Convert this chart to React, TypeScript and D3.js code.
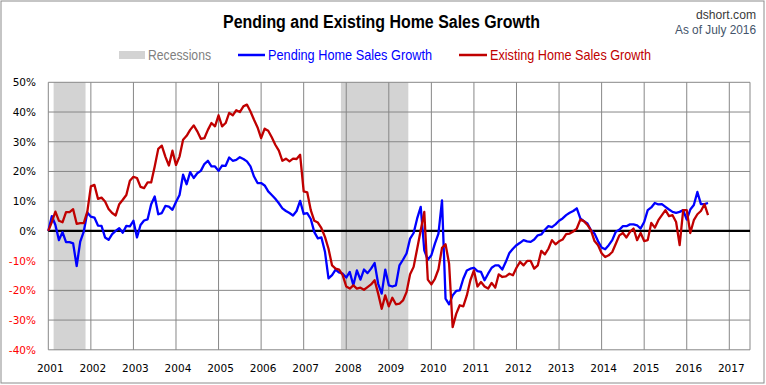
import React, { useEffect } from "react";
import * as d3 from "d3";

// monthly YoY growth, Jan 2001 .. Jul 2016 (percent)
const pending = [
  // 2001
  0, 5, 2, -3.1, -0.4, -3.8, -3.8, -4.2, -11.8, -3.6, -0.2, 6.2,
  // 2002
  4.8, 4.5, 1.8, 1.7, -2.2, -3, -1.1, 0, 0.9, -0.6, 1.7, 1.5,
  // 2003
  3.4, -2.2, 2, 3.5, 3.9, 9, 11.6, 5.6, 6, 8.4, 8.2, 7.1,
  // 2004
  9.7, 12.1, 18.9, 15.7, 19.8, 17.8, 19.4, 20.2, 22.5, 23.6, 21.7, 21.7,
  // 2005
  20.2, 22, 21.9, 24.7, 23.6, 23.9, 24.8, 24.2, 23.4, 21.7, 18.3, 16.1,
  // 2006
  16.1, 15.3, 13.3, 12.1, 10.8, 9.3, 7.6, 6.7, 6, 5.2, 6.7, 10.1,
  // 2007
  5.7, 6, 4, -0.4, -2.5, -2.2, -7, -16, -14.9, -13, -14, -14.4,
  // 2008
  -15.7, -13.8, -18.3, -13.3, -16.4, -13, -14.2, -12.7, -10.8, -17.8, -21.1, -13,
  // 2009
  -18.3, -18.7, -18.3, -11.6, -9.7, -7.6, -2.6, -0.7, 4.2, 8.1, -6.5, -9.7,
  // 2010
  -8.2, -4.3, -0.9, 10.3, -22.8, -24.7, -21.7, -20.2, -20, -16.1, -13.3, -12.7,
  // 2011
  -12.4, -13.5, -13.8, -16.6, -14.4, -12.4, -11.6, -11.6, -13, -10.4, -7.4, -6,
  // 2012
  -4.8, -4, -3.1, -3.5, -3.7, -2.9, -1.5, -1.2, 0.4, 1.6, 1.3, 2.2,
  // 2013
  3.4, 4.2, 5.3, 6.1, 6.7, 7.6, 4.2, 3.3, 2.5, 0.2, -0.9, -3.5,
  // 2014
  -5.6, -6.2, -4.8, -3.1, -0.3, 0.4, 1.6, 1.6, 2.2, 2.2, 1.9, 0.8,
  // 2015
  3, 7, 7.9, 9.4, 8.9, 9, 8.1, 7.2, 6.4, 6.1, 6.4, 7,
  // 2016
  3.8, 7.2, 8.7, 13.1, 9, 9, 9.4,
];

const existing = [
  // 2001
  0, 3, 6.5, 3.4, 2.9, 6.3, 6.3, 7.3, 2.4, 2.6, 2.6, 6.5,
  // 2002
  15, 15.5, 10.8, 11.2, 9.9, 7.4, 6, 5.2, 9, 10.5, 12.1, 16.9,
  // 2003
  18.2, 17.8, 14.8, 14.4, 16.3, 16.3, 21.7, 27.6, 28.7, 25, 22, 27,
  // 2004
  22.2, 25, 30.7, 32, 34, 35.5, 33.5, 31, 31.2, 34, 36.3, 35.2,
  // 2005
  38.9, 35.2, 36.3, 39.7, 38.9, 40.6, 40, 41.9, 42.5, 40.2, 37.4, 34.8,
  // 2006
  31.2, 34.4, 33.7, 31.5, 29, 27, 23.6, 24.3, 23.4, 24.3, 24.2, 25.6,
  // 2007
  13.3, 13, 7, 3.4, 2.8, 0.9, -2, -6, -11.6, -12.7, -13, -14.9,
  // 2008
  -18.7, -19.4, -18.3, -19.4, -19.1, -19.8, -18.9, -18, -16.6, -21.1, -26.2, -21.7,
  // 2009
  -25.4, -22.5, -24.7, -24.5, -23.4, -20.6, -14.6, -12.1, -6, 0.2, 6.4, -16.4,
  // 2010
  -18, -16.1, -12.9, -5.7, -4.5, -11, -32.4, -27.9, -25, -25.4, -21.7, -16.6,
  // 2011
  -13.3, -18.7, -17.2, -18.7, -19.4, -17.5, -19.1, -14.6, -15.5, -15.3, -14.4, -14.9,
  // 2012
  -12.4, -10.4, -11.6, -10.1, -10.1, -12.7, -11.6, -6.7, -7.9, -6, -3.1, -4.5,
  // 2013
  -3.5, -2.9, -1.1, -0.9, -0.2, 0.8, 3.8, 3.3, 2, 0.2, -3.4, -4.8,
  // 2014
  -7.5, -8.8, -8.2, -7.1, -4.3, -1.5, -0.7, -2.2, -0.3, 0.8, -3.1, -0.7,
  // 2015
  -3.4, -3.1, 2.7, 1.1, 3.6, 5.3, 7, 5, 5.3, 3, -4.8, 7,
  // 2016
  7, -0.7, 3.6, 5.6, 6.7, 9, 5.3,
];

// NBER peak / trough months
const recessions = [
  { peak: "2001-03", trough: "2001-11" },
  { peak: "2007-12", trough: "2009-06" },
];

const years = d3.range(2001, 2018);
const yTicks = [50, 40, 30, 20, 10, 0, -10, -20, -30, -40];

const W = 766;
const H = 385;
const left = 48.3;
const right = 750;
const top = 82.3;
const bottom = 349.8;

const sans = "'Liberation Sans', Arial, sans-serif";
const tickFont = "'DejaVu Sans', Verdana, sans-serif";

const monthToYear = (s: string) => {
  const [y, m] = s.split("-").map(Number);
  return y + (m - 1) / 12;
};

export default function App() {
  useEffect(() => {
    document.body.style.margin = "0";
  }, []);

  const x = d3.scaleLinear().domain([2001, 2017]).range([left, 729.3]);
  const y = d3.scaleLinear().domain([-40, 50]).range([bottom, top]);

  const line = d3
    .line<number>()
    .x((_, i) => x(2001 + i / 12))
    .y((d) => y(d));

  // narrow text: squeeze regular glyphs into the measured width
  const squeeze = (w: number) => ({ textLength: w, lengthAdjust: "spacingAndGlyphs" as const });

  return (
    <svg width={W} height={H} style={{ display: "block", background: "#fff" }}>
      <rect x={1} y={1} width={W - 3} height={H - 3} fill="#fff" stroke="#8c8c8c" />

      {/* recession bands */}
      {recessions.map((r, i) => (
        <rect
          key={i}
          x={x(monthToYear(r.peak) - 0.5 / 12)}
          y={top}
          width={x(monthToYear(r.trough) + 0.5 / 12) - x(monthToYear(r.peak) - 0.5 / 12)}
          height={bottom - top}
          fill="#d3d3d3"
        />
      ))}

      {/* grid */}
      {yTicks.map((t) => (
        <line key={t} x1={left} x2={right} y1={y(t)} y2={y(t)} stroke="#878787" strokeWidth={1} />
      ))}
      {years.map((yr) => (
        <line key={yr} x1={x(yr)} x2={x(yr)} y1={top} y2={bottom} stroke="#878787" strokeWidth={1} />
      ))}
      <line x1={right} x2={right} y1={top} y2={bottom} stroke="#878787" strokeWidth={1} />
      <line x1={left} x2={right} y1={y(0)} y2={y(0)} stroke="#000" strokeWidth={2.3} />

      {/* y labels */}
      {yTicks.map((t) => (
        <text
          key={t}
          x={36}
          y={y(t) + 4}
          textAnchor="end"
          fontFamily={tickFont}
          fontSize={10.5}
          fill={t < 0 ? "#ff0000" : "#000"}
        >
          {t}%
        </text>
      ))}

      {/* x labels */}
      {years.map((yr) => (
        <text key={yr} x={x(yr) + 2} y={372} textAnchor="middle" fontFamily={tickFont} fontSize={10.5} fill="#000">
          {yr}
        </text>
      ))}

      {/* series */}
      <path d={line(pending) || ""} fill="none" stroke="#0000ff" strokeWidth={2.3} strokeLinejoin="round" />
      <path d={line(existing) || ""} fill="none" stroke="#c00000" strokeWidth={2.3} strokeLinejoin="round" />

      {/* title */}
      <text x={223} y={28} fontFamily={sans} fontWeight="bold" fontSize={18} fill="#000" {...squeeze(317)}>
        Pending and Existing Home Sales Growth
      </text>
      <text x={696} y={18.5} fontFamily={sans} fontSize={13.5} fill="#3a3a3a" {...squeeze(60)}>
        dshort.com
      </text>
      <text x={675} y={34} fontFamily={sans} fontSize={13.5} fill="#44546a" {...squeeze(81)}>
        As of July 2016
      </text>

      {/* legend */}
      <rect x={119} y={51} width={26} height={8} fill="#d3d3d3" />
      <text x={148} y={60} fontFamily={sans} fontSize={14.5} fill="#808080" {...squeeze(63)}>
        Recessions
      </text>
      <line x1={238} x2={265} y1={55} y2={55} stroke="#0000ff" strokeWidth={2.5} />
      <text x={268} y={60} fontFamily={sans} fontSize={14.5} fill="#0000ff" {...squeeze(164)}>
        Pending Home Sales Growth
      </text>
      <line x1={459} x2={487} y1={55} y2={55} stroke="#c00000" strokeWidth={2.5} />
      <text x={490} y={60} fontFamily={sans} fontSize={14.5} fill="#c00000" {...squeeze(161)}>
        Existing Home Sales Growth
      </text>
    </svg>
  );
}
